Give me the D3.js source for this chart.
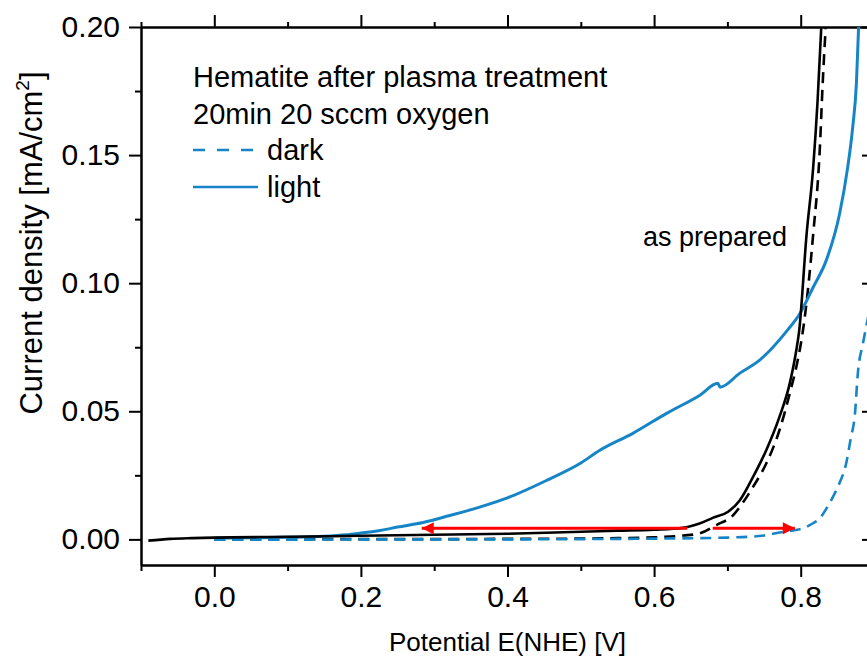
<!DOCTYPE html>
<html lang="en">
<head>
<meta charset="UTF-8">
<title>Hematite after plasma treatment</title>
<script src="https://d3js.org/d3.v7.min.js"></script>
<style>
  body { margin: 0; background: #fff; }
  svg { font-family: 'Liberation Sans', Arial, sans-serif; }
  .axis path, .axis line { stroke: #000; stroke-width: 2; }
  .axis text { fill: #000; }
</style>
</head>
<body>
<svg id="chart" width="867" height="660"></svg>
<script>
// potential [V] vs current density [mA/cm2]
const plasmaLight = [[0.00,0.0005],[0.05,0.0006],[0.10,0.0008],[0.15,0.0012],[0.18,0.0018],[0.20,0.0025],
  [0.226,0.0035],[0.25,0.0048],[0.285,0.0066],[0.32,0.0092],[0.362,0.0126],[0.40,0.0162],[0.454,0.0231],
  [0.50,0.0298],[0.526,0.0348],[0.571,0.0414],[0.617,0.0492],[0.662,0.0562],[0.687,0.0609],[0.690,0.0594],
  [0.717,0.0649],[0.744,0.0700],[0.782,0.0817],[0.799,0.0882],[0.817,0.0984],[0.835,0.109],[0.853,0.127],
  [0.864,0.145],[0.871,0.161],[0.876,0.178],[0.879,0.200]];
const plasmaDark = [[0.00,-0.0001],[0.1,-0.0001],[0.2,0.0],[0.3,0.0],[0.4,0.0],[0.5,0.0001],[0.6,0.0003],
  [0.7,0.0007],[0.75,0.0015],[0.771,0.0027],[0.79,0.0035],[0.803,0.0043],[0.815,0.006],[0.826,0.0082],
  [0.835,0.012],[0.844,0.0166],[0.853,0.022],[0.862,0.0296],[0.868,0.039],[0.874,0.049],[0.878,0.065],
  [0.885,0.0766],[0.89,0.084],[0.9,0.098]];
const preparedLight = [[-0.09,-0.0005],[-0.06,0.0002],[-0.03,0.0005],[0.0,0.0007],[0.1,0.0010],[0.2,0.0014],
  [0.3,0.0018],[0.4,0.0022],[0.5,0.0030],[0.55,0.0034],[0.6,0.0038],[0.639,0.0045],[0.662,0.0062],
  [0.680,0.0084],[0.701,0.0108],[0.717,0.0153],[0.735,0.0244],[0.753,0.0348],[0.771,0.0478],[0.785,0.0608],
  [0.794,0.0738],[0.798,0.0816],[0.808,0.119],[0.817,0.145],[0.823,0.171],[0.828,0.1995]];
const preparedDark = [[0.0,0.0],[0.1,0.0],[0.2,0.0001],[0.3,0.0001],[0.4,0.0002],[0.5,0.0003],[0.55,0.0005],
  [0.6,0.0008],[0.64,0.0015],[0.662,0.0023],[0.685,0.0056],[0.708,0.0095],[0.717,0.0127],[0.735,0.0205],
  [0.753,0.0296],[0.771,0.0426],[0.785,0.0569],[0.796,0.070],[0.801,0.0777],[0.805,0.0855],[0.817,0.119],
  [0.826,0.152],[0.830,0.178],[0.834,0.1995]];

// red arrows: [from, to] potentials at one current level
const arrowLevel = 0.0043;
const arrowLeft = [0.645, 0.283];
const arrowRight = [0.68, 0.792];

const xMajor = [0.0, 0.2, 0.4, 0.6, 0.8];
const xMinor = [-0.1, 0.1, 0.3, 0.5, 0.7, 0.9];
const yMajor = [0.00, 0.05, 0.10, 0.15, 0.20];
const yMinor = [0.025, 0.075, 0.125, 0.175];

const legendTitle = ["Hematite after plasma treatment", "20min 20 sccm oxygen"];
const legendItems = [{label: "dark", dashed: true}, {label: "light", dashed: false}];

const blue = "#1685c7";

const svg = d3.select("#chart");
const margin = {left: 141, top: 27, right: 874, bottom: 565};

const x = d3.scaleLinear().domain([-0.1, 0.9]).range([margin.left, margin.right]);
const y = d3.scaleLinear().domain([-0.01, 0.2]).range([margin.bottom, margin.top]);

svg.append("defs").append("clipPath").attr("id", "plot")
  .append("rect")
  .attr("x", margin.left).attr("y", margin.top)
  .attr("width", margin.right - margin.left).attr("height", margin.bottom - margin.top);

// axes: minor first, then major with labels
const fmtY = d3.format(".2f"), fmtX = d3.format(".1f");

svg.append("g").attr("class", "axis")
  .attr("transform", `translate(${margin.left},0)`)
  .call(d3.axisLeft(y).tickValues(yMinor).tickSize(6).tickSizeOuter(0).tickFormat(""));
svg.append("g").attr("class", "axis")
  .attr("transform", `translate(${margin.left},0)`)
  .call(d3.axisLeft(y).tickValues(yMajor).tickSize(12).tickSizeOuter(0).tickPadding(9).tickFormat(fmtY))
  .call(g => g.selectAll("text").attr("font-size", 30).attr("font-family", null));

svg.append("g").attr("class", "axis")
  .attr("transform", `translate(0,${margin.bottom})`)
  .call(d3.axisBottom(x).tickValues(xMinor).tickSize(6).tickSizeOuter(0).tickFormat(""));
svg.append("g").attr("class", "axis")
  .attr("transform", `translate(0,${margin.bottom})`)
  .call(d3.axisBottom(x).tickValues(xMajor).tickSize(12).tickSizeOuter(0).tickPadding(9).tickFormat(fmtX))
  .call(g => g.selectAll("text").attr("font-size", 30).attr("font-family", null));

// mirrored top and right axes
svg.append("g").attr("class", "axis")
  .attr("transform", `translate(0,${margin.top})`)
  .call(d3.axisTop(x).tickValues(xMinor).tickSize(5).tickSizeOuter(0).tickFormat(""));
svg.append("g").attr("class", "axis")
  .attr("transform", `translate(0,${margin.top})`)
  .call(d3.axisTop(x).tickValues(xMajor).tickSize(12).tickSizeOuter(0).tickFormat(""));
svg.append("g").attr("class", "axis")
  .attr("transform", `translate(${margin.right},0)`)
  .call(d3.axisRight(y).tickValues(yMajor).tickSize(-12).tickSizeOuter(0).tickFormat(""));

// curves
const line = d3.line().x(d => x(d[0])).y(d => y(d[1])).curve(d3.curveMonotoneX);
const curves = svg.append("g").attr("clip-path", "url(#plot)");

const series = [
  {data: preparedDark, color: "#000", dash: "11,7", w: 2.6},
  {data: plasmaDark, color: blue, dash: "11,7", w: 2.6},
  {data: plasmaLight, color: blue, dash: null, w: 3},
  {data: preparedLight, color: "#000", dash: null, w: 2.6}
];
series.forEach(s => {
  curves.append("path")
    .attr("d", line(s.data))
    .attr("fill", "none")
    .attr("stroke", s.color)
    .attr("stroke-width", s.w)
    .attr("stroke-dasharray", s.dash);
});

// arrows
svg.append("defs").append("marker")
  .attr("id", "head").attr("viewBox", "0 0 10 10")
  .attr("refX", 10).attr("refY", 5)
  .attr("markerUnits", "userSpaceOnUse")
  .attr("markerWidth", 18).attr("markerHeight", 12)
  .attr("orient", "auto")
  .append("path").attr("d", "M0,0L10,5L0,10Z").attr("fill", "#f00");

[arrowLeft, arrowRight].forEach(a => {
  svg.append("line")
    .attr("x1", x(a[0])).attr("x2", x(a[1]))
    .attr("y1", y(arrowLevel)).attr("y2", y(arrowLevel))
    .attr("stroke", "#f00").attr("stroke-width", 3)
    .attr("marker-end", "url(#head)");
});

// legend
const lg = svg.append("g").attr("font-size", 29);
legendTitle.forEach((t, i) => {
  lg.append("text").attr("x", 193).attr("y", 87 + i * 37).text(t);
});
legendItems.forEach((it, i) => {
  const yy = 150 + i * 37;
  lg.append("line")
    .attr("x1", 193).attr("x2", it.dashed ? 254 : 258)
    .attr("y1", yy).attr("y2", yy)
    .attr("stroke", blue).attr("stroke-width", 2.6)
    .attr("stroke-dasharray", it.dashed ? "12,12" : null);
  lg.append("text").attr("x", 267).attr("y", yy + 10).text(it.label);
});

svg.append("text").attr("x", 643).attr("y", 246).attr("font-size", 27).text("as prepared");

// axis titles
svg.append("text")
  .attr("x", (margin.left + margin.right) / 2).attr("y", 651)
  .attr("text-anchor", "middle").attr("font-size", 26)
  .text("Potential E(NHE) [V]");

const yl = svg.append("text")
  .attr("transform", "translate(42,243) rotate(-90)")
  .attr("text-anchor", "middle").attr("font-size", 31);
yl.append("tspan").text("Current density [mA/cm");
yl.append("tspan").attr("font-size", 19).attr("dy", -13).text("2");
yl.append("tspan").attr("dy", 13).text("]");
</script>
</body>
</html>
